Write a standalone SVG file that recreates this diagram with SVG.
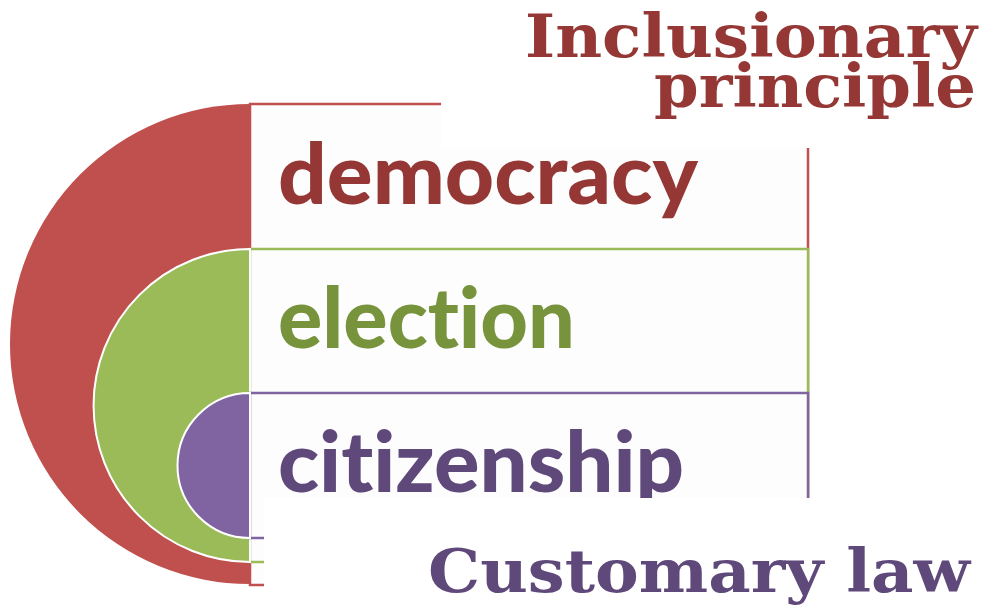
<svg xmlns="http://www.w3.org/2000/svg" width="984" height="607" viewBox="0 0 984 607">
<style>
.box{fill:#fdfdfd;stroke-width:2.5}
.arc{stroke:#ffffff;stroke-width:2}
.lbl{font-family:Lato,"Open Sans","Liberation Sans",sans-serif;font-weight:900;font-size:84px;font-variant-ligatures:none;font-feature-settings:"liga" 0,"dlig" 0}
.ttl{font-family:"DejaVu Serif","Liberation Serif",serif;font-weight:bold;font-size:60px}
</style>
<rect width="984" height="607" fill="#ffffff"/>
<g id="democracy">
<rect class="box" x="250" y="104" width="558" height="481" stroke="#C0504D"/>
<path d="M250,104 A240,240 0 0 0 250,584 Z" fill="#C0504D"/>
<text class="lbl" x="278" y="204" fill="#953735" textLength="420" lengthAdjust="spacingAndGlyphs">democracy</text>
</g>
<g id="election">
<rect class="box" x="250" y="249" width="558" height="313" stroke="#9BBB59"/>
<path class="arc" d="M250,249 A156.5,156.5 0 0 0 250,562 Z" fill="#9BBB59"/>
<text class="lbl" x="278" y="348" fill="#77933C" textLength="297" lengthAdjust="spacingAndGlyphs">election</text>
</g>
<g id="citizenship">
<rect class="box" x="250" y="393" width="558" height="145" stroke="#8064A2"/>
<path class="arc" d="M250,393 A72.5,72.5 0 0 0 250,538 Z" fill="#8064A2"/>
<text class="lbl" x="278" y="492" fill="#5F497A" textLength="406" lengthAdjust="spacingAndGlyphs">citizenship</text>
</g>
<g id="inclusionary">
<rect x="441" y="0" width="543" height="148" fill="#ffffff"/>
<text class="ttl" x="525" y="57" fill="#953735" textLength="452" lengthAdjust="spacingAndGlyphs">Inclusionary</text>
<text class="ttl" x="654" y="107" fill="#953735" textLength="322" lengthAdjust="spacingAndGlyphs">principle</text>
</g>
<g id="customary">
<rect x="264" y="498" width="720" height="109" fill="#ffffff"/>
<text class="ttl" x="428" y="592" fill="#5F497A" font-size="64" textLength="542" lengthAdjust="spacingAndGlyphs">Customary law</text>
</g>
<g id="connectors"/>
</svg>
